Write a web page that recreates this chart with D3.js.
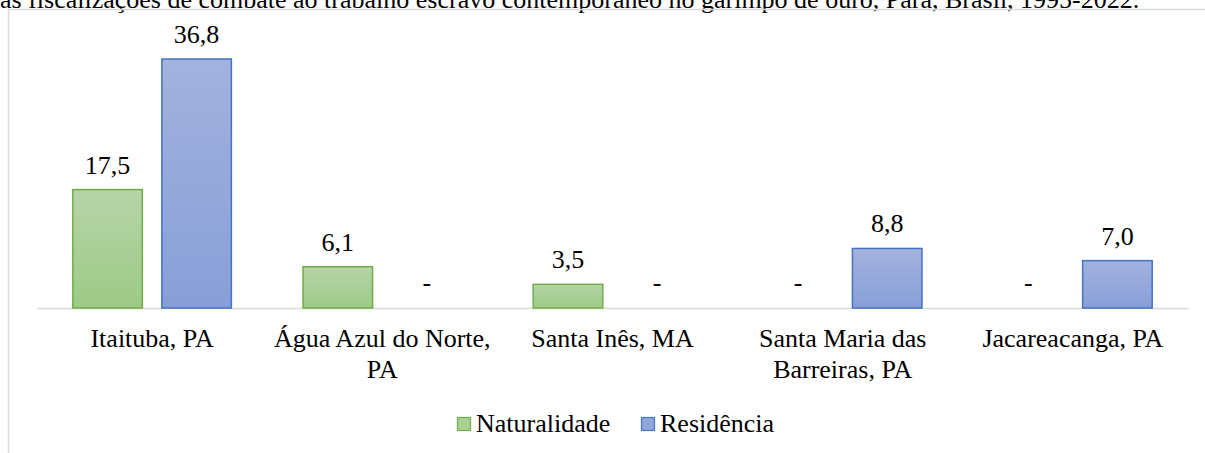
<!DOCTYPE html>
<html><head><meta charset="utf-8">
<script src="https://cdn.jsdelivr.net/npm/d3@7"></script>
<style>
body{margin:0;background:#fff;font-family:'Liberation Serif';}
svg{display:block;}
text{font-family:'Liberation Serif';}
</style></head>
<body><svg id="c" width="1205" height="453" font-family="Liberation Serif">
<text id="title" x="0" y="8" font-size="26" font-family="Liberation Serif" fill="#000">as fiscalizações de combate ao trabalho escravo contemporâneo no garimpo de ouro, Pará, Brasil, 1995-2022.</text>
</svg>
<script>
const categories = ["Itaituba, PA", "Água Azul do Norte, PA", "Santa Inês, MA", "Santa Maria das Barreiras, PA", "Jacareacanga, PA"];
const categoryLines = [["Itaituba, PA"], ["Água Azul do Norte,", "PA"], ["Santa Inês, MA"], ["Santa Maria das", "Barreiras, PA"], ["Jacareacanga, PA"]];
const seriesNames = ["Naturalidade", "Residência"];
const naturalidade = [17.5, 6.1, 3.5, 0, 0];
const residencia = [36.8, 0, 0, 8.8, 7.0];

const svg = d3.select("#c");
const W = 1205, H = 453;
const baseY = 308, topY = 59;
const FF = "Liberation Serif";
const FS = 26;

// frame
svg.append("path").attr("d", `M8.5,${H} V9.5 H${W}`).attr("fill", "none").attr("stroke", "#d9d9d9").attr("stroke-width", 1.5);

const x0 = d3.scaleBand().domain(categories).range([37, 1188]).paddingInner(0).paddingOuter(0);
const x1 = d3.scaleBand().domain(seriesNames).range([0, x0.bandwidth()]).paddingInner(0.202).paddingOuter(0.394);
const y = d3.scaleLinear().domain([0, 36.8]).range([baseY, topY]);

const defs = svg.append("defs");
const gradG = defs.append("linearGradient").attr("id", "gG").attr("x1", 0).attr("y1", 0).attr("x2", 0).attr("y2", 1);
gradG.append("stop").attr("offset", "0%").attr("stop-color", "#b6d4a8");
gradG.append("stop").attr("offset", "100%").attr("stop-color", "#9dca86");
const gradB = defs.append("linearGradient").attr("id", "gB").attr("x1", 0).attr("y1", 0).attr("x2", 0).attr("y2", 1);
gradB.append("stop").attr("offset", "0%").attr("stop-color", "#a3b2de");
gradB.append("stop").attr("offset", "100%").attr("stop-color", "#879fd8");

const fills = {"Naturalidade": "url(#gG)", "Residência": "url(#gB)"};
const strokes = {"Naturalidade": "#70ad47", "Residência": "#4472c4"};
const legendFills = {"Naturalidade": "#a9cf94", "Residência": "#92a6da"};

const axis = d3.axisBottom(x0).tickSize(0).tickFormat("");
svg.append("g").attr("transform", `translate(0,${baseY})`).call(axis)
  .call(g => g.select(".domain").attr("stroke", "#d9d9d9").attr("stroke-width", 1.5));

const data = categories.map((c, i) => ({cat: c, vals: [
  {s: "Naturalidade", v: naturalidade[i]}, {s: "Residência", v: residencia[i]}]}));

const groups = svg.selectAll("g.grp").data(data).join("g").attr("class", "grp")
  .attr("transform", d => `translate(${x0(d.cat)},0)`);

groups.selectAll("rect").data(d => d.vals.filter(v => v.v > 0)).join("rect")
  .attr("x", d => x1(d.s) + 0.75).attr("width", x1.bandwidth() - 1.5)
  .attr("y", d => y(d.v)).attr("height", d => baseY - y(d.v))
  .attr("fill", d => fills[d.s]).attr("stroke", d => strokes[d.s]).attr("stroke-width", 1.5);

groups.selectAll("text.lbl").data(d => d.vals).join("text").attr("class", "lbl")
  .attr("x", d => x1(d.s) + x1.bandwidth() / 2)
  .attr("y", d => d.v > 0 ? y(d.v) - 16 : baseY - 17)
  .attr("text-anchor", "middle").attr("font-size", FS).attr("font-family", FF).attr("fill", "#000")
  .text(d => d.v > 0 ? d3.format(".1f")(d.v).replace(".", ",") : "-");

categories.forEach((c, i) => {
  const cx = x0(c) + x0.bandwidth() / 2;
  const t = svg.append("text").attr("x", cx).attr("y", 347)
    .attr("text-anchor", "middle").attr("font-size", FS).attr("font-family", FF).attr("fill", "#000");
  categoryLines[i].forEach((ln, j) => t.append("tspan").attr("x", cx).attr("dy", j === 0 ? 0 : 31).text(ln));
});

const legX = [457.5, 641.5];
seriesNames.forEach((s, i) => {
  svg.append("rect").attr("x", legX[i]).attr("y", 417.5).attr("width", 13).attr("height", 13)
    .attr("fill", legendFills[s]).attr("stroke", strokes[s]).attr("stroke-width", 1.2);
  svg.append("text").attr("x", legX[i] + 18.5).attr("y", 432).attr("font-size", FS).attr("font-family", FF).attr("fill", "#000").text(s);
});
</script></body></html>
